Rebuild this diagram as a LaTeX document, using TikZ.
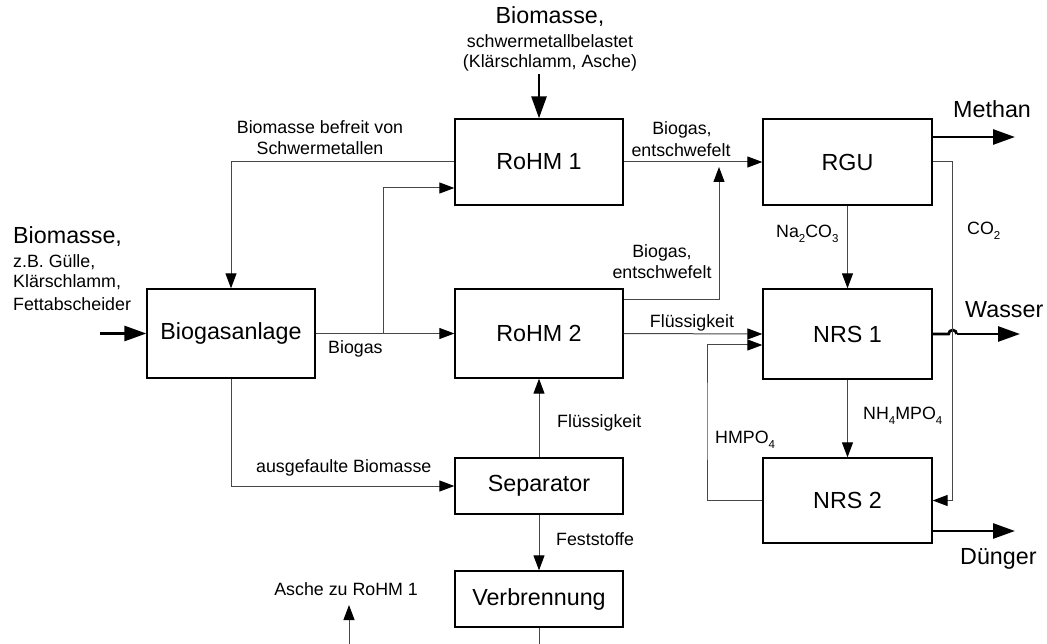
\documentclass[tikz,border=0pt]{standalone}
\usepackage{fontspec}
\setmainfont{Liberation Sans}
\usetikzlibrary{arrows.meta}

\newcommand{\bigtxt}{\fontsize{23.3pt}{27pt}\selectfont}
\newcommand{\smalltxt}{\fontsize{17.8pt}{21pt}\selectfont}
\newcommand{\chemsub}[1]{\raisebox{-5pt}{\fontsize{11.5pt}{12pt}\selectfont #1}}

\tikzset{
  unit/.style={draw=black, line width=1.3pt, minimum width=168pt, inner sep=0pt,
               font=\bigtxt},
  conn/.style={draw=black!72, line width=1pt,
               -{Triangle[length=15pt,width=11pt,color=black]}},
  plain/.style={draw=black!72, line width=1pt},
  flow/.style={draw=black, line width=2.7pt, -{Triangle[length=22pt,width=15pt]}},
  lbl/.style={font=\smalltxt, inner sep=0pt},
  blbl/.style={font=\bigtxt, inner sep=0pt},
}

\begin{document}
\begin{tikzpicture}[x=1pt, y=-1pt]
\useasboundingbox (0,0) rectangle (1047,644);

% process units
\node[unit, minimum height=86pt] (rohm1) at (539,162) {RoHM 1};
\node[unit, minimum width=169pt, minimum height=86pt] (rgu) at (847.5,162) {RGU};
\node[unit, minimum height=89pt] (bga) at (231,333.5) {Biogasanlage};
\node[unit, minimum height=89pt] (rohm2) at (539,333.5) {RoHM 2};
\node[unit, minimum width=169pt, minimum height=90pt] (nrs1) at (847.5,334) {NRS 1};
\node[unit, minimum width=169pt, minimum height=85pt] (nrs2) at (847.5,500.5) {NRS 2};
\node[unit, minimum height=56pt] (sep) at (539,486) {Separator};
\node[unit, minimum height=56pt] (verb) at (539,599) {Verbrennung};

% free ends of the streams
\coordinate (topin) at (539,74);
\coordinate (leftin) at (100,333.5);
\coordinate (branch) at (383,333.5);
\coordinate (merge) at (719,167);
\coordinate (methan) at (1015,137);
\coordinate (wasser) at (1020,334);
\coordinate (duenger) at (1015,531);
\coordinate (co2x) at (952,300);
\coordinate (hmx) at (707,420);
\coordinate (ashout) at (539,644);
\coordinate (ashfrom) at (349,644);
\coordinate (ashto) at (349,605);

% main input and output streams
\draw[flow] (topin) -- (rohm1.north);
\draw[flow] (leftin) -- (bga.west);
\draw[flow] ([yshift=25pt]rgu.east) -- (methan);
\draw[flow, -] (nrs1.east) -- ([xshift=16pt]nrs1.east) arc (180:0:4pt);
\draw[flow] ([xshift=24pt]nrs1.east) -- (wasser);
\draw[flow] ([yshift=-30.5pt]nrs2.east) -- (duenger);

% internal streams
\draw[conn] (rohm1.west) -| (bga.north);
\draw[conn] (bga.east) -- (rohm2.west);
\draw[conn] (branch) |- ([yshift=-26pt]rohm1.west);
\draw[conn] (rohm1.east) -- (rgu.west);
\draw[conn] ([yshift=33.5pt]rohm2.east) -| (merge);
\draw[conn] (rohm2.east) -- (nrs1.west);
\draw[conn] (rgu.south) -- (nrs1.north);
\draw[conn] (rgu.east) -| (co2x) |- (nrs2.east);
\draw[conn] (nrs1.south) -- (nrs2.north);
\draw[conn] (nrs2.west) -| (hmx) |- ([yshift=-11pt]nrs1.west);
\draw[conn] (bga.south) |- (sep.west);
\draw[conn] (sep.north) -- (rohm2.south);
\draw[conn] (sep.south) -- (verb.north);
\draw[plain] (verb.south) -- (ashout);
\draw[conn] (ashfrom) -- (ashto);

% stream labels
\node[blbl, anchor=base] (t1) at (550,24) {Biomasse,};
\node[lbl, anchor=base] (t2) at (550,48) {schwermetallbelastet};
\node[lbl, anchor=base] (t3) at (550,68) {(Klärschlamm, Asche)};

\node[blbl, anchor=base west] (l1) at (13,244) {Biomasse,};
\node[lbl, anchor=base west] (l2) at (13,268) {z.B. Gülle,};
\node[lbl, anchor=base west] (l3) at (13,288) {Klärschlamm,};
\node[lbl, anchor=base west] (l4) at (13,311) {Fettabscheider};

\node[lbl, anchor=base] (bf1) at (320,134) {Biomasse befreit von};
\node[lbl, anchor=base] (bf2) at (320,155) {Schwermetallen};

\node[lbl, anchor=base] (bg1) at (682,135) {Biogas,};
\node[lbl, anchor=base] (bg2) at (681,157) {entschwefelt};

\node[lbl, anchor=base west] (bg) at (328,353) {Biogas};

\node[lbl, anchor=base] (bg3) at (662,258) {Biogas,};
\node[lbl, anchor=base] (bg4) at (662,279) {entschwefelt};

\node[lbl, anchor=base] (fl1) at (692,328) {Flüssigkeit};
\node[lbl, anchor=base west] (na) at (776,238) {Na\chemsub{2}CO\chemsub{3}};
\node[lbl, anchor=base west] (co2) at (967,235) {CO\chemsub{2}};
\node[blbl, anchor=base west] (me) at (953,118) {Methan};
\node[blbl, anchor=base west] (wa) at (965,318) {Wasser};
\node[lbl, anchor=base west] (nh) at (863,419) {NH\chemsub{4}MPO\chemsub{4}};
\node[lbl, anchor=base west] (hm) at (715,443) {HMPO\chemsub{4}};
\node[blbl, anchor=base west] (du) at (960,564) {Dünger};

\node[lbl, anchor=base west] (ab) at (256,472) {ausgefaulte Biomasse};
\node[lbl, anchor=base west] (fl2) at (557,427) {Flüssigkeit};
\node[lbl, anchor=base west] (fs) at (556,545) {Feststoffe};
\node[lbl, anchor=base east] (as) at (418,595) {Asche zu RoHM 1};
\end{tikzpicture}
\end{document}
